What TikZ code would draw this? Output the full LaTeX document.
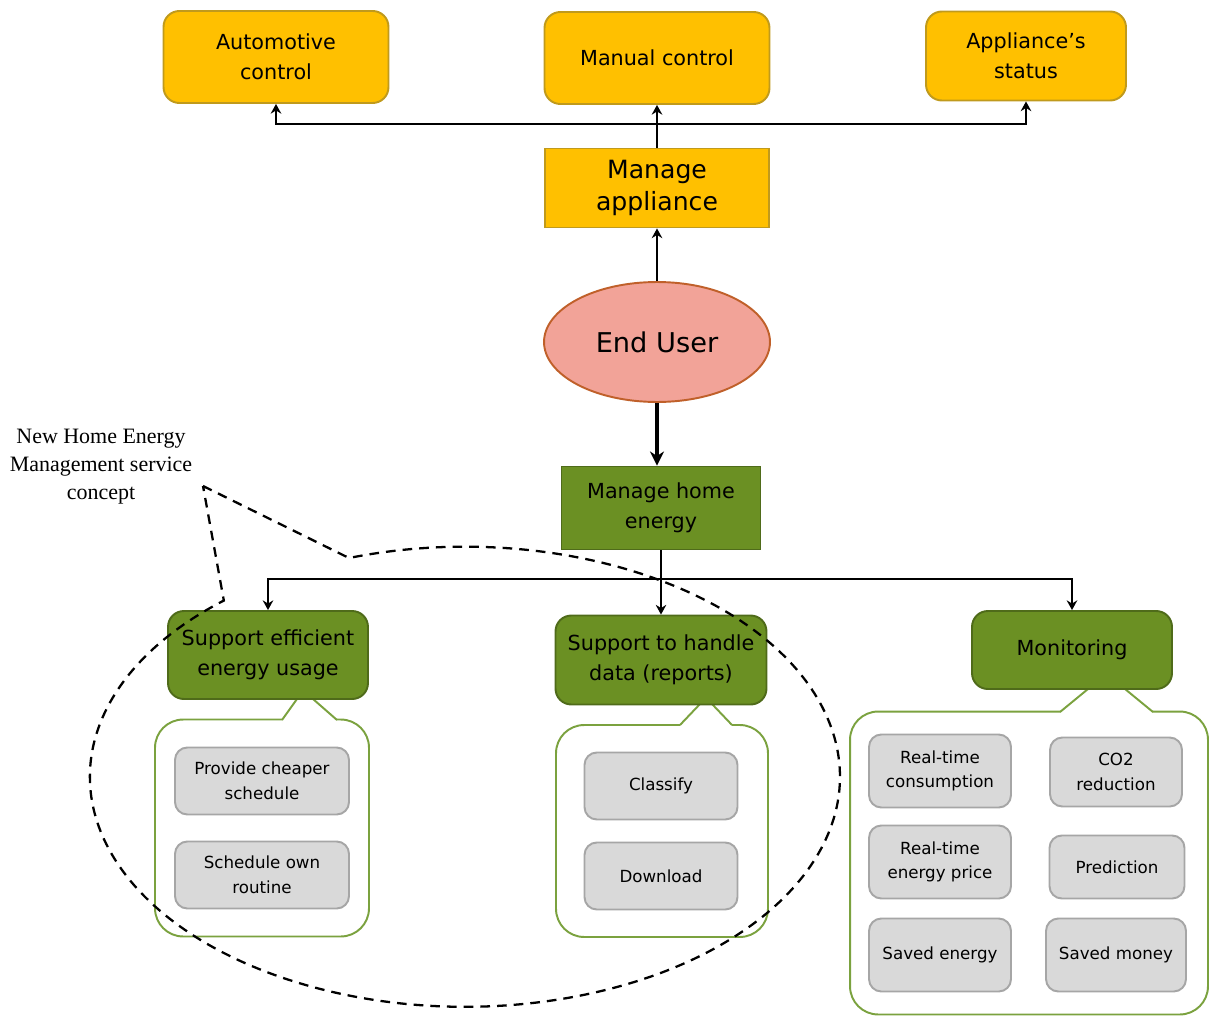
\documentclass[tikz,border=0pt]{standalone}
\usepackage{fontspec}
\setmainfont{DejaVu Sans}
\newfontfamily\notefont{Liberation Serif}
\usetikzlibrary{positioning,arrows.meta,shapes.geometric}
\definecolor{orFill}{HTML}{FFC000}
\definecolor{orBd}{HTML}{C09A1C}
\definecolor{usrFill}{HTML}{F2A398}
\definecolor{usrBd}{HTML}{C0602A}
\definecolor{grFill}{HTML}{6B9023}
\definecolor{grBd}{HTML}{4F6B1A}
\definecolor{wrapBd}{HTML}{7BA23F}
\definecolor{itFill}{HTML}{D9D9D9}
\definecolor{itBd}{HTML}{A6A6A6}
\tikzset{
  >={Stealth[length=5.5pt,width=6pt]},
}

\begin{document}
\begin{tikzpicture}[
  x=0.02cm,y=-0.02cm,
  every node/.style={align=center,inner sep=2pt},
  ora/.style={draw=orBd,fill=orFill,line width=1.1pt,rounded corners=9pt,
    minimum width=4.5cm,minimum height=1.84cm,font=\fontsize{11.8}{17}\selectfont},
  mgr/.style={draw=orBd,fill=orFill,line width=1.1pt,
    minimum width=4.48cm,minimum height=1.58cm,font=\fontsize{14.3}{18.5}\selectfont},
  usr/.style={ellipse,draw=usrBd,fill=usrFill,line width=1.1pt,
    minimum width=4.52cm,minimum height=2.4cm,font=\fontsize{15.5}{18}\selectfont},
  grn/.style={draw=grBd,fill=grFill,line width=1.1pt,rounded corners=9pt,
    minimum width=4cm,minimum height=1.76cm,font=\fontsize{11.8}{17}\selectfont},
  wrap/.style={draw=wrapBd,fill=white,line width=1.1pt,rounded corners=16pt},
  item/.style={draw=itBd,fill=itFill,line width=1.1pt,rounded corners=7pt,
    minimum width=2.84cm,minimum height=1.46cm,font=\fontsize{9.5}{14}\selectfont},
  note/.style={font=\notefont\fontsize{12.5}{16}\selectfont},
  conn/.style={line width=1pt},
  dsh/.style={line width=1.3pt,dash pattern=on 5.5pt off 4pt}
]
\useasboundingbox (0,0) rectangle (1211,1017);

\node[ora] (auto) at (276,57) {Automotive\\control};
\node[ora] (manual) at (657,58) {Manual control};
\node[ora,minimum width=4cm,minimum height=1.78cm] (status) at (1026,56) {Appliance’s\\status};

\node[mgr] (appl) at (657,188) {Manage\\appliance};
\node[usr] (user) at (657,342) {End User};
\node[grn,minimum width=3.98cm,minimum height=1.66cm,rounded corners=0pt] (home) at (661,508) {Manage home\\energy};

\node[wrap,minimum width=4.28cm,minimum height=4.34cm] (wrapL) at (262,828) {};
\node[wrap,minimum width=4.24cm,minimum height=4.24cm] (wrapM) at (662,831) {};
\node[wrap,minimum width=7.16cm,minimum height=6.06cm] (wrapR) at (1029,863) {};

% callout wedges
\fill[white] (282,721) -- (297,699) -- (313,699) -- (337,721) -- cycle;
\draw[wrapBd,line width=1.1pt] (297,699) -- (282,720) (313,699) -- (337,720);
\fill[white] (680,726) -- (700,704) -- (712,704) -- (732,726) -- cycle;
\draw[wrapBd,line width=1.1pt] (700,704) -- (680,725) (712,704) -- (732,725);
\fill[white] (1060,713) -- (1088,689) -- (1125,689) -- (1153,713) -- cycle;
\draw[wrapBd,line width=1.1pt] (1088,689) -- (1060,712) (1125,689) -- (1153,712);

\node[grn] (eff) at (268,655) {Support efficient\\energy usage};
\node[grn,minimum width=4.22cm,minimum height=1.78cm] (data) at (661,660) {Support to handle\\data (reports)};
\node[grn,minimum height=1.56cm] (mon) at (1072,650) {Monitoring};

\node[item,minimum width=3.48cm,minimum height=1.34cm] (cheap) at (262,781) {Provide cheaper\\schedule};
\node[item,minimum width=3.48cm,minimum height=1.34cm] (own) at (262,875) {Schedule own\\routine};

\node[item,minimum width=3.06cm,minimum height=1.34cm] (classify) at (661,786) {Classify};
\node[item,minimum width=3.06cm,minimum height=1.34cm] (download) at (661,876) {Download};

\node[item] (rtc) at (940,771) {Real-time\\consumption};
\node[item,minimum width=2.64cm,minimum height=1.38cm] (co2) at (1116,772) {CO2\\reduction};
\node[item] (rtp) at (940,862) {Real-time\\energy price};
\node[item,minimum width=2.7cm,minimum height=1.26cm] (pred) at (1117,867) {Prediction};
\node[item] (saven) at (940,955) {Saved energy};
\node[item,minimum width=2.8cm] (savem) at (1116,955) {Saved money};

\coordinate (topbar) at (657,124);
\coordinate (split) at (661,579);

\draw[->,conn] (appl) -- (manual);
\draw[->,conn] (topbar) -| (auto);
\draw[->,conn] (topbar) -| (status);
\draw[->,conn] (user) -- (appl);
\draw[-{Stealth[length=8pt,width=8pt]},line width=2pt] (user.south) -- (user.south |- home.north);

\draw[conn] (home) -- (split);
\draw[->,conn] (split) -| (eff);
\draw[->,conn] (split) -- (data);
\draw[->,conn] (split) -| (mon);

\node[note] (concept) at (101,467) {New Home Energy\\Management service\\concept};
\coordinate (tip) at (203,486);
\draw[dsh] (tip) -- (349,558) arc[start angle=252,end angle=590,x radius=375,y radius=230] -- cycle;

\end{tikzpicture}
\end{document}
